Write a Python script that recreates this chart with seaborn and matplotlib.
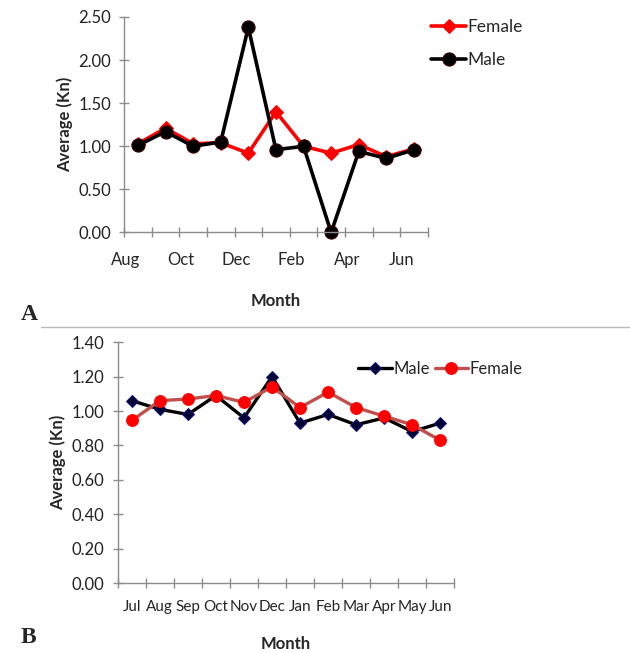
import matplotlib
matplotlib.use("Agg")
import matplotlib.pyplot as plt
import matplotlib.transforms as mtransforms
import numpy as np
import pandas as pd
import seaborn as sns

# ------------------------------------------------------------------
# Data
# ------------------------------------------------------------------
months_a = ["Aug", "Sep", "Oct", "Nov", "Dec", "Jan", "Feb", "Mar", "Apr", "May", "Jun"]
female_a = [1.03, 1.21, 1.03, 1.04, 0.92, 1.40, 1.00, 0.92, 1.02, 0.88, 0.97]
male_a = [1.01, 1.17, 1.00, 1.05, 2.38, 0.96, 1.00, 0.00, 0.94, 0.86, 0.96]
labels_a = ["Aug", "", "Oct", "", "Dec", "", "Feb", "", "Apr", "", "Jun"]
yticks_a = [0.0, 0.5, 1.0, 1.5, 2.0, 2.5]

months_b = ["Jul", "Aug", "Sep", "Oct", "Nov", "Dec", "Jan", "Feb", "Mar", "Apr", "May", "Jun"]
male_b = [1.06, 1.01, 0.98, 1.09, 0.96, 1.20, 0.93, 0.98, 0.92, 0.96, 0.88, 0.93]
female_b = [0.945, 1.06, 1.07, 1.09, 1.05, 1.14, 1.02, 1.11, 1.02, 0.97, 0.92, 0.83]
yticks_b = [0.0, 0.2, 0.4, 0.6, 0.8, 1.0, 1.2, 1.4]

sns.set_style("white")
plt.rcParams["font.family"] = ["Lato", "DejaVu Sans"]

fig = plt.figure(figsize=(6.3, 6.53), dpi=100)
ax_a = fig.add_axes([0.197, 0.644, 0.482, 0.330])
ax_b = fig.add_axes([0.187, 0.107, 0.534, 0.369])

grey = "#8c8c8c"


def style_axes(ax, n, yticks):
    ax.set_xlim(-0.5, n - 0.5)
    ax.set_ylim(yticks[0], yticks[-1])
    ax.set_yticks(yticks)
    ax.set_yticklabels([f"{v:.2f}" for v in yticks], fontsize=12, color="#222222")
    ax.set_xticks(np.arange(n))
    ax.set_xticks(np.arange(n + 1) - 0.5, minor=True)
    ax.tick_params(axis="both", which="both", bottom=True, left=True)
    ax.tick_params(axis="x", which="major", length=0, pad=14)
    ax.tick_params(axis="x", which="minor", length=7, width=1, color=grey, direction="inout")
    ax.tick_params(axis="y", length=7, width=1, color=grey, direction="inout", pad=6)
    for side in ["top", "right"]:
        ax.spines[side].set_visible(False)
    for side in ["left", "bottom"]:
        ax.spines[side].set_color(grey)
        ax.spines[side].set_linewidth(1)
    ax.set_ylabel("Average (Kn)", fontsize=12, fontweight="bold")
    ax.set_xlabel("Month", fontsize=12, fontweight="bold", labelpad=18)
    for line in ax.get_lines():
        line.set_clip_on(False)


# ------------------------------------------------------------------
# Panel A
# ------------------------------------------------------------------
df_a = pd.DataFrame({"Month": months_a, "Female": female_a, "Male": male_a})
sns.lineplot(data=df_a, x="Month", y="Female", ax=ax_a, color="#ff0000", lw=2.6,
             marker="D", markersize=7, markeredgecolor="#ff0000", label="Female", sort=False)
sns.lineplot(data=df_a, x="Month", y="Male", ax=ax_a, color="black", lw=2.6,
             marker="o", markersize=9.5, markeredgecolor="#3a0000", label="Male", sort=False)
style_axes(ax_a, len(months_a), yticks_a)
ax_a.set_xticklabels(labels_a, fontsize=12)
shift = mtransforms.ScaledTranslation(-12 / 100, 0, fig.dpi_scale_trans)
for lbl in ax_a.get_xticklabels():
    lbl.set_transform(lbl.get_transform() + shift)
ax_a.legend(loc="upper left", bbox_to_anchor=(0.96, 1.065), frameon=False, fontsize=12.5,
            handlelength=2.0, handletextpad=0.1, labelspacing=1.0)

# ------------------------------------------------------------------
# Panel B
# ------------------------------------------------------------------
df_b = pd.DataFrame({"Month": months_b, "Male": male_b, "Female": female_b})
sns.lineplot(data=df_b, x="Month", y="Male", ax=ax_b, color="black", lw=2.4,
             marker="D", markersize=6, markerfacecolor="#000033", markeredgecolor="#1a1a80",
             label="Male", sort=False)
sns.lineplot(data=df_b, x="Month", y="Female", ax=ax_b, color="#c0504d", lw=2.4,
             marker="o", markersize=8.5, markerfacecolor="#ff0000", markeredgecolor="#ff0000",
             label="Female", sort=False)
style_axes(ax_b, len(months_b), yticks_b)
ax_b.set_xticklabels(months_b, fontsize=11)
ax_b.tick_params(axis="x", which="major", pad=12)
ax_b.set_xlabel("Month", fontsize=12, fontweight="bold", labelpad=16)
ax_b.legend(loc="upper left", bbox_to_anchor=(0.67, 0.985), ncol=2, frameon=False, fontsize=12,
            handlelength=2.0, handletextpad=0.1, columnspacing=0.3)

# panel letters and separator
fig.text(0.033, 0.51, "A", fontsize=17, fontweight="bold", family="Liberation Serif")
fig.text(0.033, 0.015, "B", fontsize=17, fontweight="bold", family="Liberation Serif")
fig.add_artist(plt.Line2D([0.065, 1.0], [0.499, 0.499], color="#bbbbbb", lw=1,
                          transform=fig.transFigure))

fig.savefig("out.png", dpi=100)
